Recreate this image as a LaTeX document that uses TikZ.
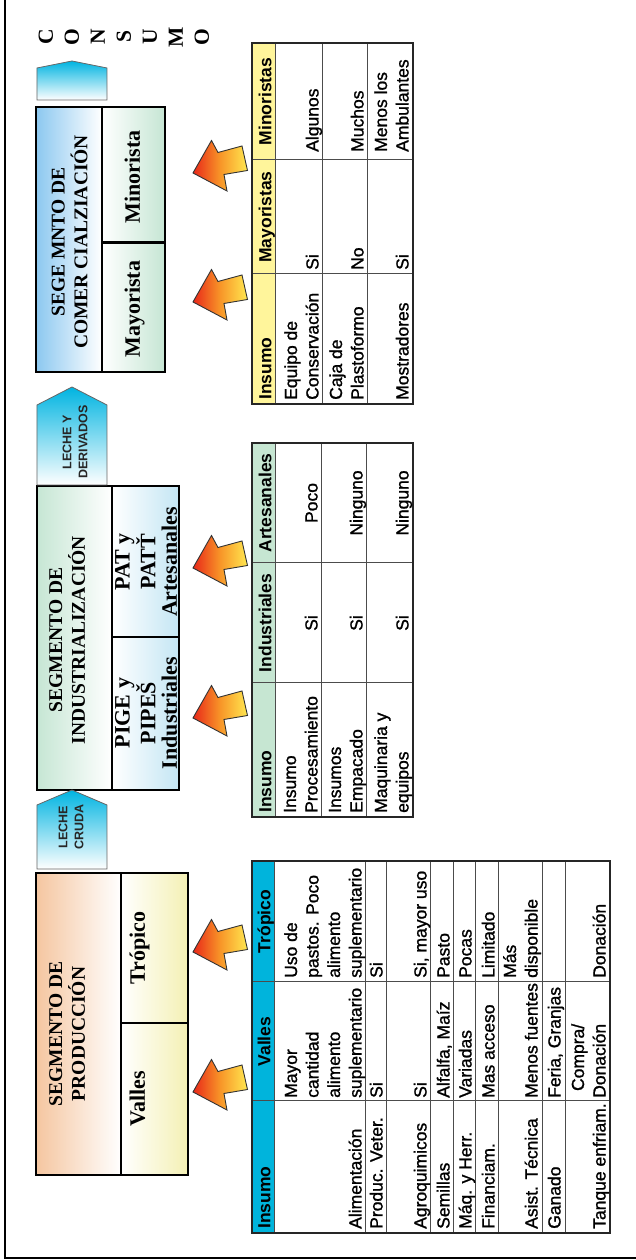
\documentclass[tikz,border=0pt]{standalone}
\usepackage{fontspec}
\setmainfont{Liberation Serif}
\setsansfont{Liberation Sans}
\newfontfamily\tablafam{Liberation Sans}[FakeBold=1.2]

\definecolor{cianT}{RGB}{0,180,220}
\definecolor{verdeT}{RGB}{198,230,210}
\definecolor{amarT}{RGB}{255,245,155}
\definecolor{azulS}{RGB}{140,200,240}
\definecolor{verdeS}{RGB}{198,230,212}
\definecolor{celesteS}{RGB}{196,230,244}
\definecolor{duraznoS}{RGB}{245,198,160}
\definecolor{cremaS}{RGB}{244,240,180}
\definecolor{cianF}{RGB}{0,180,225}
\definecolor{rojoF}{RGB}{232,40,25}
\definecolor{naranjaF}{RGB}{248,150,40}
\definecolor{amarF}{RGB}{255,232,80}

\newcommand{\tabla}{\fontsize{17.5}{21.5}\selectfont\tablafam}
\newcommand{\tablacab}{\fontsize{17.5}{21.5}\selectfont\sffamily\bfseries}
\newcommand{\titulo}{\fontsize{19.5}{20.5}\selectfont\bfseries}
\newcommand{\subtit}{\fontsize{22}{21.5}\selectfont\bfseries}
\newcommand{\lineas}[1]{\begin{tabular}[b]{@{}l@{}}#1\end{tabular}}
\newcommand{\lineasc}[1]{\begin{tabular}[b]{@{}c@{}}#1\end{tabular}}
\newcommand{\lineasr}[1]{\begin{tabular}[b]{@{}r@{}}#1\end{tabular}}

\tikzset{
  segmarco/.style={draw=black, line width=2.2pt},
  tablamarco/.style={draw=black!85, line width=1.8pt},
  rejilla/.style={draw=black!70, line width=1pt},
  celda/.style={font=\tabla, inner sep=0pt, anchor=base west},
  celdac/.style={font=\tabla, inner sep=0pt, anchor=base},
  cabeza/.style={celda, font=\tablacab},
  cabezac/.style={celdac, font=\tablacab},
  segtit/.style={font=\titulo, inner sep=0pt, anchor=base},
  segsub/.style={font=\subtit, inner sep=0pt, anchor=base},
  pentagono/.style={draw=black!60, line width=0.8pt, left color=white, right color=cianF},
  pentatxt/.style={font=\fontsize{12.5}{16}\selectfont\sffamily\bfseries, inner sep=0pt, anchor=base, text=black!85},
  flecha/.style={draw=black!80, line width=0.9pt, top color=rojoF, bottom color=amarF, middle color=naranjaF},
  consumo/.style={font=\fontsize{21.5}{21.5}\selectfont\bfseries, inner sep=0pt, anchor=base},
}

\begin{document}
\begin{tikzpicture}[x=1pt, y=1pt]
  % page of the reference, the drawing is laid out landscape and turned
  \useasboundingbox (-635,0) rectangle (0,1260);
  \begin{scope}[transform canvas={rotate=90}]
    % frame
    \draw[line width=1.8pt] (1262,630) -- (2,630) -- (2,-2);

    % Segmento de produccion
    \shade[top color=duraznoS, bottom color=white] (85,514) rectangle (387,599);
    \shade[top color=white, bottom color=cremaS] (85,447) rectangle (387,514);
    \draw[segmarco] (85,447) rectangle (387,599);
    \draw[segmarco] (85,514) -- (387,514);
    \draw[segmarco] (237,447) -- (237,514);
    \node[segtit] (tpro) at (226,550) {\lineasc{SEGMENTO DE\\PRODUCCIÓN}};
    \node[segsub] (sval) at (161,490) {Valles};
    \node[segsub] (stro) at (312,490) {Trópico};

    % Segmento de industrializacion
    \shade[top color=verdeS, bottom color=white] (470,523) rectangle (774,598);
    \shade[top color=white, bottom color=celesteS] (470,456) rectangle (774,523);
    \draw[segmarco] (470,456) rectangle (774,598);
    \draw[segmarco] (470,523) -- (774,523);
    \draw[segmarco] (623,456) -- (623,523);
    \node[segtit] (tind) at (620,550) {\lineasc{SEGMENTO DE\\INDUSTRIALIZACIÓN}};
    \node[segsub] (sind) at (547,458) {\lineasc{PIGE y\\PIPEŠ\\Industriales}};
    \node[segsub] (sart) at (698,458) {\lineasc{PAT y\\PATŤ\\Artesanales}};

    % Segmento de comercializacion
    \shade[top color=azulS, bottom color=white] (888,533) rectangle (1153,599);
    \shade[top color=white, bottom color=verdeS] (888,470) rectangle (1153,533);
    \draw[segmarco] (888,470) rectangle (1153,599);
    \draw[segmarco] (888,533) -- (1153,533);
    \draw[segmarco, line width=3pt] (1017,470) -- (1017,533);
    \node[segtit] (tcom) at (1018,547.5) {\lineasc{SEGE MNTO DE\\COMER CIALZIACIÓN}};
    \node[segsub] (smay) at (951,495) {Mayorista};
    \node[segsub] (smin) at (1083,495) {Minorista};

    % flow arrows between the segments
    \draw[pentagono] (391,528) -- (455,528) -- (470,563) -- (455,598) -- (391,598) -- cycle;
    \node[pentatxt] (cruda) at (433,551.7) {\lineasc{LECHE\\CRUDA}};
    \draw[pentagono] (775,528) -- (855,528) -- (873,563) -- (855,598) -- (775,598) -- cycle;
    \node[pentatxt] (deriv) at (818,547.5) {\lineasc{LECHE Y\\DERIVADOS}};
    \draw[pentagono] (1160,528) -- (1192,528) -- (1199,563) -- (1192,598) -- (1160,598) -- cycle;
    \foreach \l [count=\i] in {C,O,N,S,U,M,O}
      \node[consumo] (cons\i) at (1223,608-26*\i) {\l};

    % block arrows from the tables up to the boxes
    \foreach \ax in {168,308,542,692,958,1087}
      \draw[flecha, shift={(\ax,442)}] (0,0) -- (32.5,-18.5) -- (20.5,-25) -- (27,-49)
        -- (2.5,-54.5) -- (-1.5,-31) -- (-18,-34) -- cycle;

    % Tabla produccion
    \fill[cianT] (27,360) rectangle (399,383);
    \foreach \y in {360,269,248,204,181,159,136,93,70}
      \draw[rejilla] (27,\y) -- (399,\y);
    \foreach \x in {159,278}
      \draw[rejilla] (\x,25) -- (\x,383);
    \draw[tablamarco] (27,25) rectangle (399,383);
    \node[cabeza] (p0a) at (31,364.5) {Insumo};
    \node[cabezac] (p0b) at (218.5,364.5) {Valles};
    \node[cabezac] (p0c) at (338.5,364.5) {Trópico};
    \node[celda] (p1a) at (31,273.5) {Alimentación};
    \node[celda] (p1b) at (162,273.5) {\lineas{Mayor\\cantidad\\alimento\\suplementario}};
    \node[celda] (p1c) at (282,273.5) {\lineas{Uso de\\pastos. Poco\\alimento\\suplementario}};
    \node[celda] (p2a) at (31,252.5) {Produc. Veter.};
    \node[celda] (p2b) at (162,252.5) {Si};
    \node[celda] (p2c) at (282,252.5) {Si};
    \node[celda] (p3a) at (31,208.5) {Agroquimicos};
    \node[celda] (p3b) at (162,208.5) {Si};
    \node[celda] (p3c) at (282,208.5) {Si, mayor uso};
    \node[celda] (p4a) at (31,185.5) {Semillas};
    \node[celda] (p4b) at (162,185.5) {Alfalfa, Maíz};
    \node[celda] (p4c) at (282,185.5) {Pasto};
    \node[celda] (p5a) at (31,163.5) {Máq. y Herr.};
    \node[celda] (p5b) at (162,163.5) {Variadas};
    \node[celda] (p5c) at (282,163.5) {Pocas};
    \node[celda] (p6a) at (31,140.5) {Financiam.};
    \node[celda] (p6b) at (162,140.5) {Mas acceso};
    \node[celda] (p6c) at (282,140.5) {Limitado};
    \node[celda] (p7a) at (31,97.5) {Asist. Técnica};
    \node[celda] (p7b) at (162,97.5) {Menos fuentes};
    \node[celda] (p7c) at (282,97.5) {\lineas{Más\\disponible}};
    \node[celda] (p8a) at (31,74.5) {Ganado};
    \node[celda] (p8b) at (162,74.5) {Feria, Granjas};
    \node[celda] (p9a) at (31,29.5) {Tanque enfriam.};
    \node[celda] (p9b) at (162,29.5) {\lineasr{Compra/\\Donación}};
    \node[celda] (p9c) at (282,29.5) {Donación};

    % Tabla industrializacion
    \fill[verdeT] (443,359) rectangle (817,383);
    \foreach \y in {359,313,268}
      \draw[rejilla] (443,\y) -- (817,\y);
    \foreach \x in {577,697}
      \draw[rejilla] (\x,222) -- (\x,383);
    \draw[tablamarco] (443,222) rectangle (817,383);
    \node[cabeza] (i0a) at (447,363.5) {Insumo};
    \node[cabezac] (i0b) at (637,363.5) {Industriales};
    \node[cabezac] (i0c) at (757,363.5) {Artesanales};
    \node[celda] (i1a) at (447,317.5) {\lineas{Insumo\\Procesamiento}};
    \node[celdac] (i1b) at (637,317.5) {Si};
    \node[celdac] (i1c) at (757,317.5) {Poco};
    \node[celda] (i2a) at (447,272.5) {\lineas{Insumos\\Empacado}};
    \node[celdac] (i2b) at (637,272.5) {Si};
    \node[celdac] (i2c) at (757,272.5) {Ninguno};
    \node[celda] (i3a) at (447,226.5) {\lineas{Maquinaria y\\equipos}};
    \node[celdac] (i3b) at (637,226.5) {Si};
    \node[celdac] (i3c) at (757,226.5) {Ninguno};

    % Tabla comercializacion
    \fill[amarT] (856,359) rectangle (1217,383);
    \foreach \y in {359,312,267}
      \draw[rejilla] (856,\y) -- (1217,\y);
    \foreach \x in {986,1100}
      \draw[rejilla] (\x,222) -- (\x,383);
    \draw[tablamarco] (856,222) rectangle (1217,383);
    \node[cabeza] (c0a) at (860,363.5) {Insumo};
    \node[cabezac] (c0b) at (1043,363.5) {Mayoristas};
    \node[cabezac] (c0c) at (1158.5,363.5) {Minoristas};
    \node[celda] (c1a) at (860,316.5) {\lineas{Equipo de\\Conservación}};
    \node[celda] (c1b) at (990,316.5) {Si};
    \node[celda] (c1c) at (1108,316.5) {Algunos};
    \node[celda] (c2a) at (860,271.5) {\lineas{Caja de\\Plastoformo}};
    \node[celda] (c2b) at (990,271.5) {No};
    \node[celda] (c2c) at (1108,271.5) {Muchos};
    \node[celda] (c3a) at (860,226.5) {Mostradores};
    \node[celda] (c3b) at (990,226.5) {Si};
    \node[celda] (c3c) at (1108,226.5) {\lineas{Menos los\\Ambulantes}};
  \end{scope}
\end{tikzpicture}
\end{document}
